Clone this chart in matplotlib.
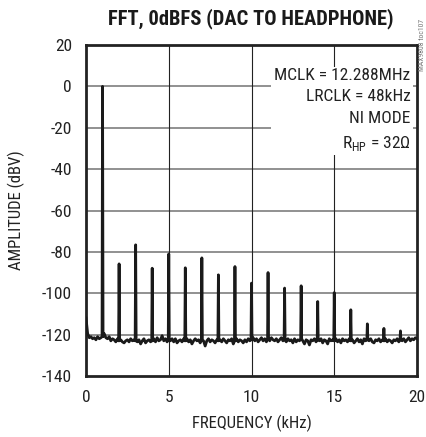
import numpy as np
import matplotlib
matplotlib.use('Agg')
import matplotlib.pyplot as plt

plt.rcParams['font.family'] = ['Roboto Condensed', 'DejaVu Sans']
plt.rcParams['mathtext.fontset'] = 'custom'
plt.rcParams['mathtext.rm'] = 'Roboto Condensed'

# noise floor, 0..20 kHz every 0.1 kHz (dBV)
noise = [
    -112, -119.5, -121.5, -121, -122, -121.5, -122.5, -121, -122, -121.5,
    -121, -119.5, -121.5, -122, -121, -123, -122, -122.5, -123.5, -122,
    -123, -122.5, -123.5, -124, -123, -122.5, -123.5, -122, -123, -122.5,
    -123, -123.5, -122.5, -124.5, -123, -122, -124, -123, -122.5, -123.5,
    -123, -122, -123.5, -121.5, -123, -122.5, -120.5, -123, -122, -123.5,
    -122.5, -123, -122, -123.5, -122, -124, -123, -122.5, -123.5, -122,
    -123, -122, -123.5, -122.5, -124.5, -123, -122, -123, -122.5, -124,
    -122.5, -123, -125.5, -123, -122, -123.5, -122.5, -123, -124, -122.5,
    -123, -122.5, -123.5, -122, -123, -124, -122.5, -123, -122, -124.5,
    -123, -122, -123.5, -122.5, -123, -124, -122.5, -123.5, -122, -123,
    -122.5, -121.5, -123, -122, -123.5, -122.5, -121.5, -123, -122, -123.5,
    -122, -123, -121.5, -122.5, -123, -122, -123.5, -122.5, -121.5, -123,
    -122.5, -123.5, -122, -123, -122.5, -124, -122, -123.5, -122.5, -123,
    -122, -123, -124.5, -122.5, -123, -125, -122.5, -123, -122, -123.5,
    -122.5, -123, -122, -124, -122.5, -123, -124.5, -122, -123, -122.5,
    -123, -122, -123.5, -122.5, -124, -122, -123, -122.5, -123.5, -122,
    -123, -122.5, -124, -123, -122, -123.5, -122.5, -124.5, -122, -123,
    -122.5, -123, -122, -123.5, -124, -122.5, -123, -122, -123.5, -122.5,
    -123, -122, -123.5, -122.5, -123, -124, -122.5, -123, -122, -123.5,
    -122.5, -123, -122, -123.5, -122.5, -121.5, -123, -122, -122.5, -121.5,
    -122,
]

# fundamental + harmonics
harm_f = [1, 2, 3, 4, 5, 6, 7, 8, 9, 10, 11, 12, 13, 14, 15, 16, 17, 18, 19]
harm_db = [0, -85.8, -76.6, -87.9, -81, -87.7, -82.9, -91.1, -87.1, -95.1,
           -90, -97.5, -96.4, -104, -99.7, -108, -114.8, -117, -118.2]

grid = np.linspace(0, 20, len(noise))
peaks = dict(zip(harm_f, harm_db))
freq, amp = [], []
for f, n in zip(grid, noise):
    k = int(round(f))
    if abs(f - k) < 1e-6 and k in peaks:
        freq += [f - 0.03, f, f + 0.03]
        amp += [n, peaks[k], n]
    else:
        freq.append(f)
        amp.append(n)

fig = plt.figure(figsize=(4.27, 4.37), dpi=100)
ax = fig.add_axes([0.2014, 0.1396, 0.7752, 0.7574])

ax.plot(freq, amp, color='#1a1a1a', lw=2.0, zorder=3)

ax.set_xlim(0, 20)
ax.set_ylim(-140, 20)
ax.set_xticks([0, 5, 10, 15, 20])
ax.set_yticks(range(-140, 21, 20))
ax.set_yticklabels(['-140', '-120', '-100', '-80', '-60', '-40', '-20', '0', '20'])
ax.tick_params(length=0, labelsize=12.5, colors='#222222', pad=10)

for y in range(-120, 20, 20):
    ax.axhline(y, color='#888888', lw=1.3, zorder=1)
for x in [5, 10, 15]:
    ax.axvline(x, color='#222222', lw=0.8, zorder=1)

for s in ax.spines.values():
    s.set_linewidth(2.0)
    s.set_color('#222222')

ax.set_xlabel('FREQUENCY (kHz)', fontsize=12, color='#222222', labelpad=7)
ax.set_ylabel('AMPLITUDE (dBV)', fontsize=12, color='#222222', labelpad=12)
fig.text(0.588, 0.958, 'FFT, 0dBFS (DAC TO HEADPHONE)', ha='center', va='center',
         fontsize=14.8, fontweight='bold', color='#1a1a1a')

note = 'MCLK = 12.288MHz\nLRCLK = 48kHz\nNI MODE\n' + r'R$_{\mathregular{HP}}$ = 32$\Omega$'
ax.text(19.6, 9, note, ha='right', va='top', fontsize=12.5, color='#222222',
        linespacing=1.55, multialignment='right',
        bbox=dict(facecolor='white', edgecolor='none', pad=2), zorder=4)

fig.text(0.988, 0.957, 'MAX9808 toc107', rotation=90, ha='center', va='top',
         fontsize=5.5, color='#777777')

fig.savefig('out.png', dpi=100)
